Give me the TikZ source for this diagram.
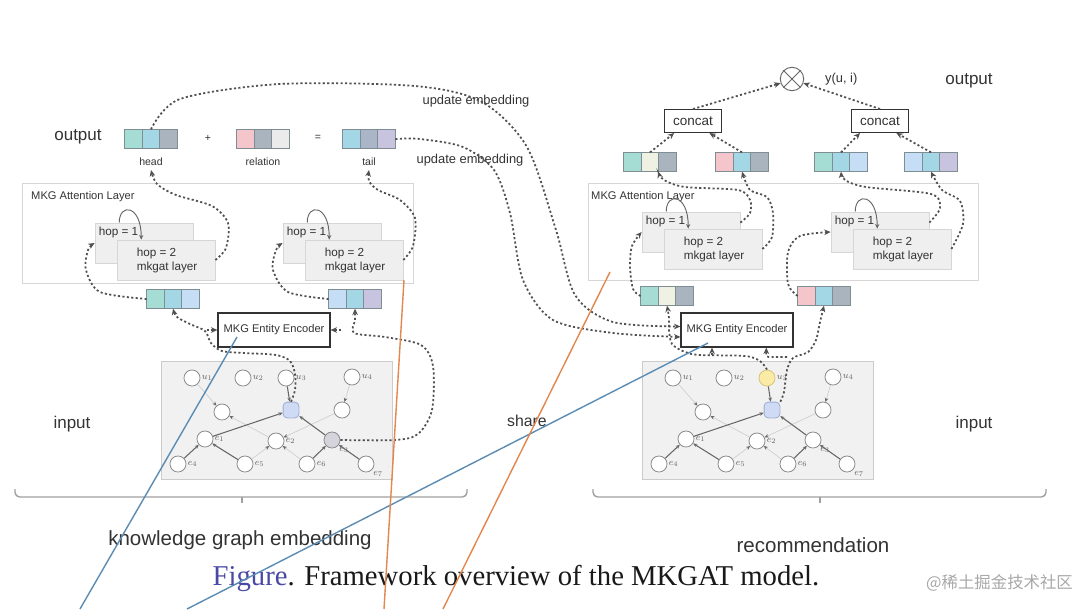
\documentclass[tikz,border=0pt]{standalone}
\usepackage{fontspec}
\setmainfont{Liberation Sans}
\newfontfamily\capfont{Liberation Serif}
\newfontfamily\cjkfont{Noto Sans CJK SC}
\usetikzlibrary{positioning,arrows.meta}

\definecolor{ink}{HTML}{333333}
\definecolor{dots}{HTML}{505050}
\definecolor{cellline}{HTML}{7E8E92}
\definecolor{teal1}{HTML}{A5DCD4}
\definecolor{cyan1}{HTML}{A4D7E6}
\definecolor{slate1}{HTML}{A9B4BE}
\definecolor{pink1}{HTML}{F4C6CC}
\definecolor{paper1}{HTML}{EBEBEB}
\definecolor{lav1}{HTML}{C8C3DF}
\definecolor{sky1}{HTML}{C5DDF5}
\definecolor{cream1}{HTML}{EFF1E3}
\definecolor{bluegray1}{HTML}{AAB6C8}
\definecolor{boxline}{HTML}{D6D6D6}
\definecolor{hopfill}{HTML}{EFEFEF}
\definecolor{gfill}{HTML}{F1F1F1}
\definecolor{gline}{HTML}{CBCBCB}
\definecolor{nodeline}{HTML}{8C8C8C}
\definecolor{itemfill}{HTML}{CFDBF4}
\definecolor{itemline}{HTML}{9DAED4}
\definecolor{userfill}{HTML}{FAEBA6}
\definecolor{userline}{HTML}{D8C47A}
\definecolor{tailfill}{HTML}{D5D3DB}
\definecolor{liteline}{HTML}{CFCFCF}
\definecolor{darkline}{HTML}{666666}
\definecolor{lblgray}{HTML}{666666}
\definecolor{braceline}{HTML}{A0A0A0}
\definecolor{figblue}{HTML}{4A4AA6}
\definecolor{scratchblue}{HTML}{5B8DB4}
\definecolor{scratchorange}{HTML}{E4874F}
\definecolor{wmgray}{HTML}{A8A8A8}

% three-cell embedding: name, centre, colours
\newcommand{\embvec}[5]{%
  \node[cell, fill=#4] (#1) at (#2) {};
  \node[cell, fill=#3, left=0pt of #1] (#1-l) {};
  \node[cell, fill=#5, right=0pt of #1] (#1-r) {};}

% knowledge graph panel: prefix, u3 look, e3 look
\newcommand{\kgraph}[3]{%
  \draw[gbox] (161,361) rectangle (392,479);
  \node[gnode, label={[lbl]right:$u_1$}] (#1U1) at (192,378) {};
  \node[gnode, label={[lbl]right:$u_2$}] (#1U2) at (243,378) {};
  \node[gnode, #2, label={[lbl]right:$u_3$}] (#1U3) at (286,378) {};
  \node[gnode, label={[lbl]right:$u_4$}] (#1U4) at (352,377) {};
  \node[gnode] (#1M1) at (222,412) {};
  \node[gitem] (#1I) at (291,410) {};
  \node[gnode] (#1M2) at (342,410) {};
  \node[gnode, label={[lbl]right:$e_1$}] (#1E1) at (205,439) {};
  \node[gnode, label={[lbl]right:$e_2$}] (#1E2) at (276,441) {};
  \node[gnode, #3, label={[lbl]below right:$e_3$}] (#1E3) at (332,440) {};
  \node[gnode, label={[lbl]right:$e_4$}] (#1E4) at (178,464) {};
  \node[gnode, label={[lbl]right:$e_5$}] (#1E5) at (245,464) {};
  \node[gnode, label={[lbl]right:$e_6$}] (#1E6) at (307,464) {};
  \node[gnode, label={[lbl]below right:$e_7$}] (#1E7) at (366,464) {};
  \foreach \a/\b in {U1/M1, E2/M1, U4/M2, M2/E2, E5/E2, E6/E2}
    \draw[lite] (#1\a) -- (#1\b);
  \foreach \a/\b in {U3/I, E1/I, E3/I, E4/E1, E5/E1, E6/E3, E7/E3}
    \draw[dark] (#1\a) -- (#1\b);}

\begin{document}
\begin{tikzpicture}[x=0.03cm, y=-0.03cm]
  \tikzset{
    cell/.style={draw=cellline, line width=0.8pt, minimum width=15pt, minimum height=16.5pt, inner sep=0pt, outer sep=0pt},
    attbox/.style={draw=boxline, fill=white, line width=0.7pt},
    hopbox/.style={draw=boxline, fill=hopfill, line width=0.6pt, minimum width=83.7pt, minimum height=34.1pt, inner sep=0pt},
    hoptxt/.style={font=\fontsize{10}{12}\selectfont, text=ink, inner sep=0pt, align=left},
    encbox/.style={draw=ink, fill=white, line width=1pt, minimum width=95.6pt, minimum height=29pt, inner sep=0pt, font=\fontsize{9.5}{10}\selectfont, text=ink},
    catbox/.style={draw=ink, fill=white, line width=0.9pt, minimum width=48.7pt, minimum height=19.6pt, inner sep=0pt, font=\fontsize{11.5}{12}\selectfont, text=ink},
    mulnode/.style={circle, draw=darkline, fill=white, line width=0.8pt, minimum size=20pt, inner sep=0pt},
    flow/.style={draw=dots, line width=1.5pt, dash pattern=on 1.8pt off 2pt, -{Stealth[length=5.5pt,width=4.8pt]}},
    loopy/.style={draw=darkline, line width=0.8pt, -{Stealth[length=4pt,width=3.6pt]}},
    gbox/.style={draw=gline, fill=gfill, line width=0.7pt},
    gnode/.style={circle, draw=nodeline, fill=white, line width=0.7pt, minimum size=13.7pt, inner sep=0pt},
    gitem/.style={rectangle, rounded corners=3.5pt, draw=itemline, fill=itemfill, line width=0.7pt, minimum size=13.5pt, inner sep=0pt},
    lite/.style={draw=liteline, line width=0.6pt, -{Stealth[length=3.5pt,width=3pt,color=darkline]}},
    dark/.style={draw=darkline, line width=0.9pt, -{Stealth[length=3.5pt,width=3pt]}},
    lbl/.style={font=\fontsize{8}{8}\selectfont, text=lblgray, inner sep=1pt},
    big/.style={font=\fontsize{14.5}{16}\selectfont, text=ink},
    huge/.style={font=\fontsize{17.5}{19}\selectfont, text=ink},
    mid/.style={font=\fontsize{11}{12}\selectfont, text=ink},
    small/.style={font=\fontsize{9}{10}\selectfont, text=ink},
    attlbl/.style={font=\fontsize{9.5}{10}\selectfont, text=ink, inner sep=0pt},
    brace/.style={draw=braceline, line width=1.2pt},
    scratch/.style={line width=1.2pt},
  }
  \fill[white] (0,0) rectangle (1080,609);
  \useasboundingbox (0,0) rectangle (1080,609);

  % attention layers
  \draw[attbox] (22,183) rectangle (413,283);
  \draw[attbox] (588,183) rectangle (978,280);
  \node[attlbl, anchor=west] (kAttTxt) at (31,197) {MKG Attention Layer};
  \node[attlbl, anchor=west] (rAttTxt) at (591,197) {MKG Attention Layer};

  % hop boxes
  \node[hopbox] (kh1a) at (144,243) {};
  \node[hopbox] (kh2a) at (166,260) {};
  \node[hopbox] (kh1b) at (332,243) {};
  \node[hopbox] (kh2b) at (354,260) {};
  \node[hopbox] (rh1a) at (691,232) {};
  \node[hopbox] (rh2a) at (713,249) {};
  \node[hopbox] (rh1b) at (880,232) {};
  \node[hopbox] (rh2b) at (902,249) {};
  \foreach \h in {kh1a, kh1b, rh1a, rh1b}
    \node[hoptxt, anchor=west] (\h-t) at ([xshift=3.4pt,yshift=-8pt]\h.north west) {hop = 1};
  \foreach \h in {kh2a, kh2b, rh2a, rh2b}
    \node[hoptxt, anchor=north west] (\h-t) at ([xshift=17pt,yshift=-6.5pt]\h.north west) {hop = 2\\mkgat layer};
  \foreach \a/\b in {kh1a/kh2a, kh1b/kh2b, rh1a/rh2a, rh1b/rh2b}
    \draw[loopy] ([xshift=21pt]\a.north west) .. controls +(0pt,17pt) and +(0pt,30pt) .. ([xshift=21pt]\b.north west);

  % embeddings
  \embvec{head}{151,139}{teal1}{cyan1}{slate1}
  \embvec{rel}{263,139}{pink1}{slate1}{paper1}
  \embvec{tail}{369,139}{cyan1}{bluegray1}{lav1}
  \embvec{kvecA}{173,299}{teal1}{cyan1}{sky1}
  \embvec{kvecB}{355,299}{sky1}{cyan1}{lav1}
  \embvec{rvec1}{650,162}{teal1}{cream1}{slate1}
  \embvec{rvec2}{742,162}{pink1}{cyan1}{slate1}
  \embvec{rvec3}{841,162}{teal1}{cyan1}{sky1}
  \embvec{rvec4}{931,162}{sky1}{cyan1}{lav1}
  \embvec{rvec5}{667,296}{teal1}{cream1}{slate1}
  \embvec{rvec6}{824,296}{pink1}{cyan1}{slate1}

  % encoders, concat, score
  \node[encbox] (lEnc) at (274,330) {MKG Entity Encoder};
  \node[encbox] (rEnc) at (737,330) {MKG Entity Encoder};
  \node[catbox] (catL) at (693,121) {concat};
  \node[catbox] (catR) at (880,121) {concat};
  \node[mulnode] (mul) at (792,79) {};
  \draw[darkline, line width=0.8pt] (mul.45) -- (mul.225) (mul.135) -- (mul.315);

  % graphs
  \kgraph{k}{}{fill=tailfill}
  \begin{scope}[shift={(481,0)}]
    \kgraph{r}{fill=userfill, draw=userline}{}
  \end{scope}

  % texts
  \node[big] (kOut) at (78,137) {output};
  \node[small] (kPlus) at (208,138) {+};
  \node[small] (kEq) at (318,138) {=};
  \node[small] (headtxt) at (151,162) {head};
  \node[small] (reltxt) at (263,162) {relation};
  \node[small] (tailtxt) at (369,162) {tail};
  \node[mid] (upd1) at (476,101) {update embedding};
  \node[mid] (upd2) at (470,160) {update embedding};
  \node[big] (rOut) at (969,81) {output};
  \node[mid, anchor=west] (score) at (821,79) {y(u, i)};
  \node[big] (kIn) at (72,424) {input};
  \node[big] (rIn) at (974,424) {input};
  \node[font=\fontsize{13.5}{15}\selectfont, text=ink] (share) at (527,421) {share};
  \node[huge] (kgeTxt) at (240,540) {knowledge graph embedding};
  \node[huge] (recTxt) at (813,545) {recommendation};
  \node[font=\capfont\fontsize{24.5}{26}\selectfont, text=black!90] (cap) at (516,578)
    {\textcolor{figblue}{Figure}. Framework overview of the MKGAT model.};
  \node[font=\cjkfont\fontsize{14}{15}\selectfont, text=wmgray, anchor=east] (wm) at (1077,583) {@稀土掘金技术社区};

  % knowledge graph side flows
  \draw[flow] plot[smooth] coordinates {(head.north) (180,99) (280,84) (415,86) (482,102) (527,147) (556,230) (575,295) (613,322) ([yshift=3pt]rEnc.west)};
  \draw[flow] plot[smooth] coordinates {(tail-r.east) (420,139) (463,147) (494,170) (510,213) (523,280) (553,320) (613,333) ([yshift=-6pt]rEnc.west)};
  \draw[flow] plot[smooth] coordinates {(kh2a.east) (226,248) (228,223) (212,206) (176,195) (157,184) (headtxt.south)};
  \draw[flow] plot[smooth] coordinates {(kh2b.east) (413,246) (415,218) (400,200) (378,190) (369,181) (tailtxt.south)};
  \draw[flow] plot[smooth] coordinates {(kvecA-l.west) (100,292) (86,270) (88,250) (kh1a.west)};
  \draw[flow] plot[smooth] coordinates {(kvecB-l.west) (288,292) (273,270) (276,250) (kh1b.west)};
  \draw[flow] plot[smooth] coordinates {(kI.north) (295,390) (295,374) (290,361) (276,355) (245,353) (222,351) (211,343) (205,331) (190,324) (177,317) (kvecA.south)};
  \draw[flow] ([xshift=-9pt]lEnc.west) -- (lEnc.west);
  \draw[flow] plot[smooth] coordinates {(kE3.east) (395,440) (418,434) (432,410) (433,366) (421,345) (385,337) (354,333) (355,320) (kvecB.south)};
  \draw[flow] ([xshift=9pt]lEnc.east) -- (lEnc.east);

  % recommendation side flows
  \draw[flow] plot[smooth] coordinates {(rU3.north) (760,361) (745,356) (700,355) (685,352) (672,344) (669,330) (669,318) (rvec5.south)};
  \coordinate (rjL) at (712,355);
  \draw[flow] (rjL) -- (rjL |- rEnc.south);
  \draw[flow] plot[smooth] coordinates {(rI.north east) (784,392) (787,370) (793,358) (808,352) (816,340) (820,322) (rvec6.south)};
  \coordinate (rjR) at (787,357);
  \draw[flow, rounded corners=2pt] (rjR) -| ([xshift=25pt]rEnc.south);
  \draw[flow] plot[smooth] coordinates {(rvec5-l.west) (633,289) (630,266) (632,246) (rh1a.west)};
  \draw[flow] plot[smooth] coordinates {(rvec6-l.west) (788,284) (788,252) (800,236) (rh1b.west)};
  \draw[flow] plot[smooth] coordinates {([yshift=8pt]rh1a.east) (750,213) (750,200) (738,190) (685,187) (664,180) ([xshift=7pt]rvec1.south)};
  \draw[flow] plot[smooth] coordinates {(rh2a.east) (772,237) (773,213) (767,197) (750,190) (rvec2.south)};
  \draw[flow] plot[smooth] coordinates {([yshift=8pt]rh1b.east) (940,208) (931,194) (866,187) (845,180) (rvec3.south)};
  \draw[flow] plot[smooth] coordinates {(rh2b.east) (963,224) (960,201) (942,190) (rvec4.south)};
  \draw[flow] (rvec1.north) -- ([xshift=-16pt]catL.south);
  \draw[flow] (rvec2.north) -- ([xshift=14pt]catL.south);
  \draw[flow] (rvec3.north) -- ([xshift=-17pt]catR.south);
  \draw[flow] (rvec4.north) -- ([xshift=14pt]catR.south);
  \draw[flow] (catL.north) -- (mul.200);
  \draw[flow] (catR.north) -- (mul.340);

  % brackets
  \draw[brace, rounded corners=4pt] (15,489) |- (467,497) -- (467,489);
  \draw[brace] (242,497) -- (242,503);
  \draw[brace, rounded corners=4pt] (593,489) |- (1046,497) -- (1046,489);
  \draw[brace] (820,497) -- (820,503);

  % pen strokes over the screenshot
  \draw[scratch, scratchblue] (237,337) -- (80,609);
  \draw[scratch, scratchblue] (708,343) -- (187,609);
  \draw[scratch, scratchorange] (404,280) -- (384,609);
  \draw[scratch, scratchorange] (610,272) -- (443,609);
\end{tikzpicture}
\end{document}
